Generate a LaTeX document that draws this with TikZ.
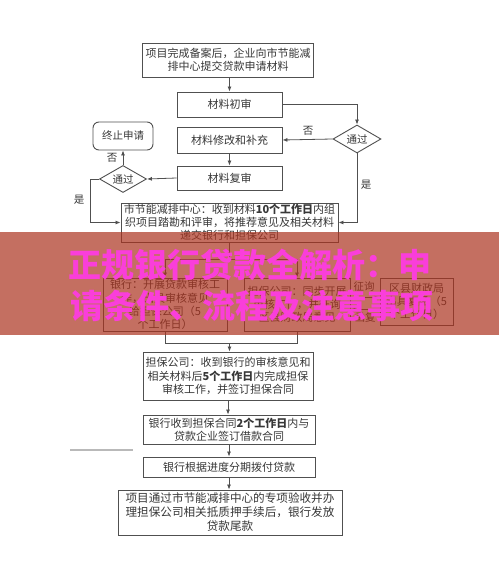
\documentclass[tikz,border=0pt]{standalone}
\usepackage{fontspec}
\setmainfont{Noto Sans CJK SC}
\usetikzlibrary{shapes.geometric,arrows.meta}
\definecolor{ln}{RGB}{80,80,80}
\definecolor{tx}{RGB}{55,55,55}
\definecolor{band}{RGB}{171,51,31}
\definecolor{mag}{RGB}{250,62,218}
\definecolor{gline}{RGB}{185,185,185}
\tikzset{
  box/.style={draw=ln, line width=0.9pt, fill=white, text=tx, align=center,
    inner sep=0pt, font=\fontsize{11}{13.2}\selectfont},
  dia/.style={diamond, aspect=1.7, draw=ln, line width=0.9pt, fill=white, text=tx,
    inner sep=0pt, minimum width=48pt, minimum height=28pt, font=\fontsize{10.5}{12}\selectfont},
  stopbox/.style={rounded corners=6pt, draw=ln, line width=0.9pt, fill=white, text=tx,
    inner sep=0pt, minimum width=60pt, minimum height=28pt, font=\fontsize{10.5}{12}\selectfont},
  lbl/.style={text=tx, inner sep=0pt, font=\fontsize{10.5}{12}\selectfont},
  conn/.style={draw=ln, line width=0.8pt, -{Latex[length=5pt,width=4pt]}},
  wire/.style={draw=ln, line width=0.8pt},
}
\begin{document}
\begin{tikzpicture}[x=1pt,y=-1pt]
\fill[white] (0,0) rectangle (499,569);
\useasboundingbox (0,0) rectangle (499,569);

% main column
\node[box, minimum width=171pt, minimum height=34pt] (b1) at (228,60)
  {项目完成备案后，企业向市节能减\\排中心提交贷款申请材料};
\node[box, minimum width=105pt, minimum height=25pt] (b2) at (229.5,104.5) {材料初审};
\node[box, minimum width=105pt, minimum height=26pt] (b3) at (229.5,140) {材料修改和补充};
\node[box, minimum width=105pt, minimum height=24pt] (b4) at (229.5,178) {材料复审};
\node[dia] (d1) at (357,139) {通过};
\node[dia, minimum width=47pt, minimum height=27pt] (d2) at (123,179) {通过};
\node[stopbox] (stop) at (123,136) {终止申请};
\node[box, minimum width=217pt, minimum height=39pt] (b5) at (229.5,222.5)
  {市节能减排中心：收到材料\textbf{10个工作日}内组\\织项目踏勘和评审，将推荐意见及相关材料\\递交银行和担保公司};

% branch boxes (under band)
\node[box, minimum width=124pt, minimum height=53pt] (bank) at (165,304.5)
  {银行：开展贷款审核工\\作，出具审核意见\\给担保公司（5\\个工作日）};
\node[box, minimum width=106pt, minimum height=53pt] (guar) at (297,304.5)
  {担保公司：同步开展\\审核工作，并征询\\区县财政局意见};
\node[box, minimum width=73pt, minimum height=47pt] (fin) at (416.5,301.5)
  {区县财政局\\出具复函（5\\个工作日）};
\node[lbl] (q1) at (364,287) {征询};
\node[lbl] (q2) at (365,318) {函复};

\node[box, minimum width=170pt, minimum height=48pt] (b6) at (228,376)
  {担保公司：收到银行的审核意见和\\相关材料后\textbf{5个工作日}内完成担保\\审核工作，并签订担保合同};
\node[box, minimum width=172pt, minimum height=29pt] (b7) at (229,429.5)
  {银行收到担保合同\textbf{2个工作日}内与\\贷款企业签订借款合同};
\node[box, minimum width=172pt, minimum height=20pt] (b8) at (229,467) {银行根据进度分期拨付贷款};
\node[box, minimum width=224pt, minimum height=45pt, font=\fontsize{11.6}{14}\selectfont] (b9) at (230,512.5)
  {项目通过市节能减排中心的专项验收并办\\理担保公司相关抵质押手续后，银行发放\\贷款尾款};

% labels
\node[lbl] (n1) at (308,131) {否};
\node[lbl] (n2) at (112,158) {否};
\node[lbl] (y1) at (79,200) {是};
\node[lbl] (y2) at (366,185) {是};

% connectors
\draw[conn] (b2.north |- b1.south) -- (b2.north);
\draw[conn] (b2.east) -| (d1.north);
\draw[conn] (d1.west) -- (b3.east);
\draw[conn] (b3.south) -- (b4.north);
\draw[conn] (b4.west) -- (d2.east);
\draw[conn] (d2.north) -- (stop.south);
\draw[conn] (d2.west) -- ++(-9,0) |- (b5.west);
\draw[conn] (d1.south) |- (b5.east);

\coordinate (j1) at (229.5,259);
\draw[wire] (b5.south) -- (j1);
\draw[conn] (j1) -| (bank.north);
\draw[conn] (j1) -| (guar.north);
\draw[conn] ([yshift=7pt]guar.east) -- ([yshift=7pt]guar.east -| fin.west);
\draw[conn] ([yshift=-5pt]guar.east -| fin.west) -- ([yshift=-5pt]guar.east);

\coordinate (j2) at (229.5,343);
\draw[wire] (bank.south) |- (j2);
\draw[wire] (guar.south) |- (j2);
\draw[conn] (j2) -- (b6.north -| j2);
\draw[conn] (b6.south) -- (b7.north -| b6.south);
\draw[conn] (b7.south) -- (b8.north);
\draw[conn] (b8.south) -- (b9.north -| b8.south);

% stray grey rule
\draw[gline, line width=1.6pt] (70,450) -- (133,450);

% overlay band and title
\fill[band, opacity=0.7] (0,232) rectangle (499,335);
\node[text=mag, font=\fontsize{33}{40}\selectfont\bfseries, inner sep=0pt] (t1) at (250,265) {正规银行贷款全解析：申};
\node[text=mag, font=\fontsize{33}{40}\selectfont\bfseries, inner sep=0pt] (t2) at (252,306) {请条件、流程及注意事项};
\end{tikzpicture}
\end{document}
